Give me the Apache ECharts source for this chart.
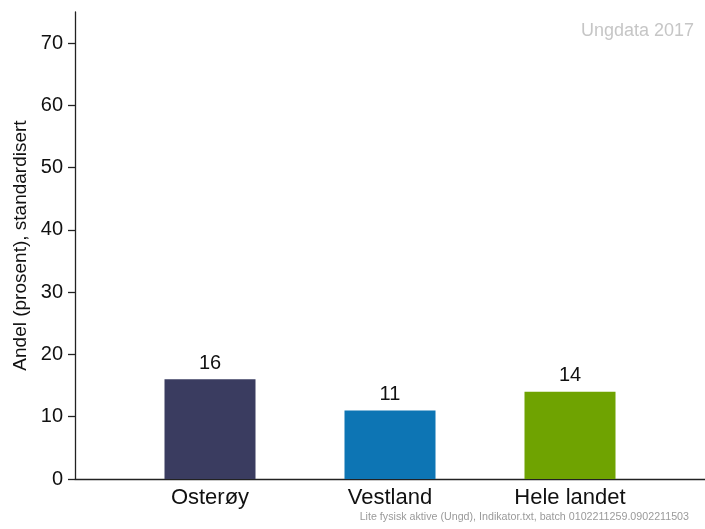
<!DOCTYPE html>
<html>
<head>
<meta charset="utf-8">
<script src="https://cdn.jsdelivr.net/npm/echarts@6/dist/echarts.min.js"></script>
<style>
  html, body { margin: 0; padding: 0; background: #fff; }
  #chart { width: 705px; height: 529px; }
</style>
</head>
<body>
<div id="chart"></div>
<script>
// data
const categories = ['Osterøy', 'Vestland', 'Hele landet'];
const values = [16, 11, 14];
const barColors = ['#3a3c60', '#0d75b4', '#6fa301'];
const yTicks = [0, 10, 20, 30, 40, 50, 60, 70];

const chart = echarts.init(document.getElementById('chart'), null, { renderer: 'canvas' });

const font = 'Liberation Sans, Arial, sans-serif';

const option = {
  animation: false,
  textStyle: { fontFamily: font },
  grid: { left: 75, right: 0, top: 12, bottom: 50, containLabel: false, outerBoundsMode: 'none' },
  title: [{
    text: 'Ungdata 2017',
    right: 6, top: 17,
    textStyle: { color: '#c6c6c6', fontSize: 18, fontWeight: 'normal', fontFamily: font }
  }, {
    text: 'Lite fysisk aktive (Ungd), Indikator.txt, batch 0102211259.0902211503',
    right: 11, bottom: 1,
    textStyle: { color: '#9a9a9a', fontSize: 10.7, fontWeight: 'normal', fontFamily: font }
  }],
  xAxis: {
    type: 'value',
    min: 0.25,
    max: 3.75,
    interval: 0.25,
    splitLine: { show: false },
    axisLine: { show: true, lineStyle: { color: '#222', width: 1.3 } },
    axisTick: { show: false },
    axisLabel: {
      color: '#111',
      fontSize: 22,
      margin: 8,
      showMinLabel: false,
      showMaxLabel: false,
      formatter: v => (Math.abs(v - Math.round(v)) < 1e-6 ? categories[Math.round(v) - 1] || '' : '')
    }
  },
  yAxis: {
    type: 'value',
    min: 0,
    max: 75,
    name: 'Andel (prosent), standardisert',
    nameLocation: 'middle',
    nameRotate: 90,
    nameGap: 45,
    nameTextStyle: { color: '#111', fontSize: 19 },
    splitLine: { show: false },
    axisLine: { show: true, lineStyle: { color: '#222', width: 1.3 } },
    axisTick: { show: true, length: 7, customValues: yTicks, lineStyle: { color: '#222', width: 1.3 } },
    axisLabel: { color: '#111', fontSize: 20, margin: 12, customValues: yTicks }
  },
  series: [{
    type: 'bar',
    barWidth: 91,
    data: values.map((v, i) => ({
      value: [i + 1, v],
      itemStyle: { color: barColors[i] }
    })),
    label: {
      show: true,
      position: 'top',
      distance: 6,
      color: '#111',
      fontSize: 20,
      formatter: p => p.value[1]
    }
  }]
};

chart.setOption(option);
</script>
</body>
</html>
